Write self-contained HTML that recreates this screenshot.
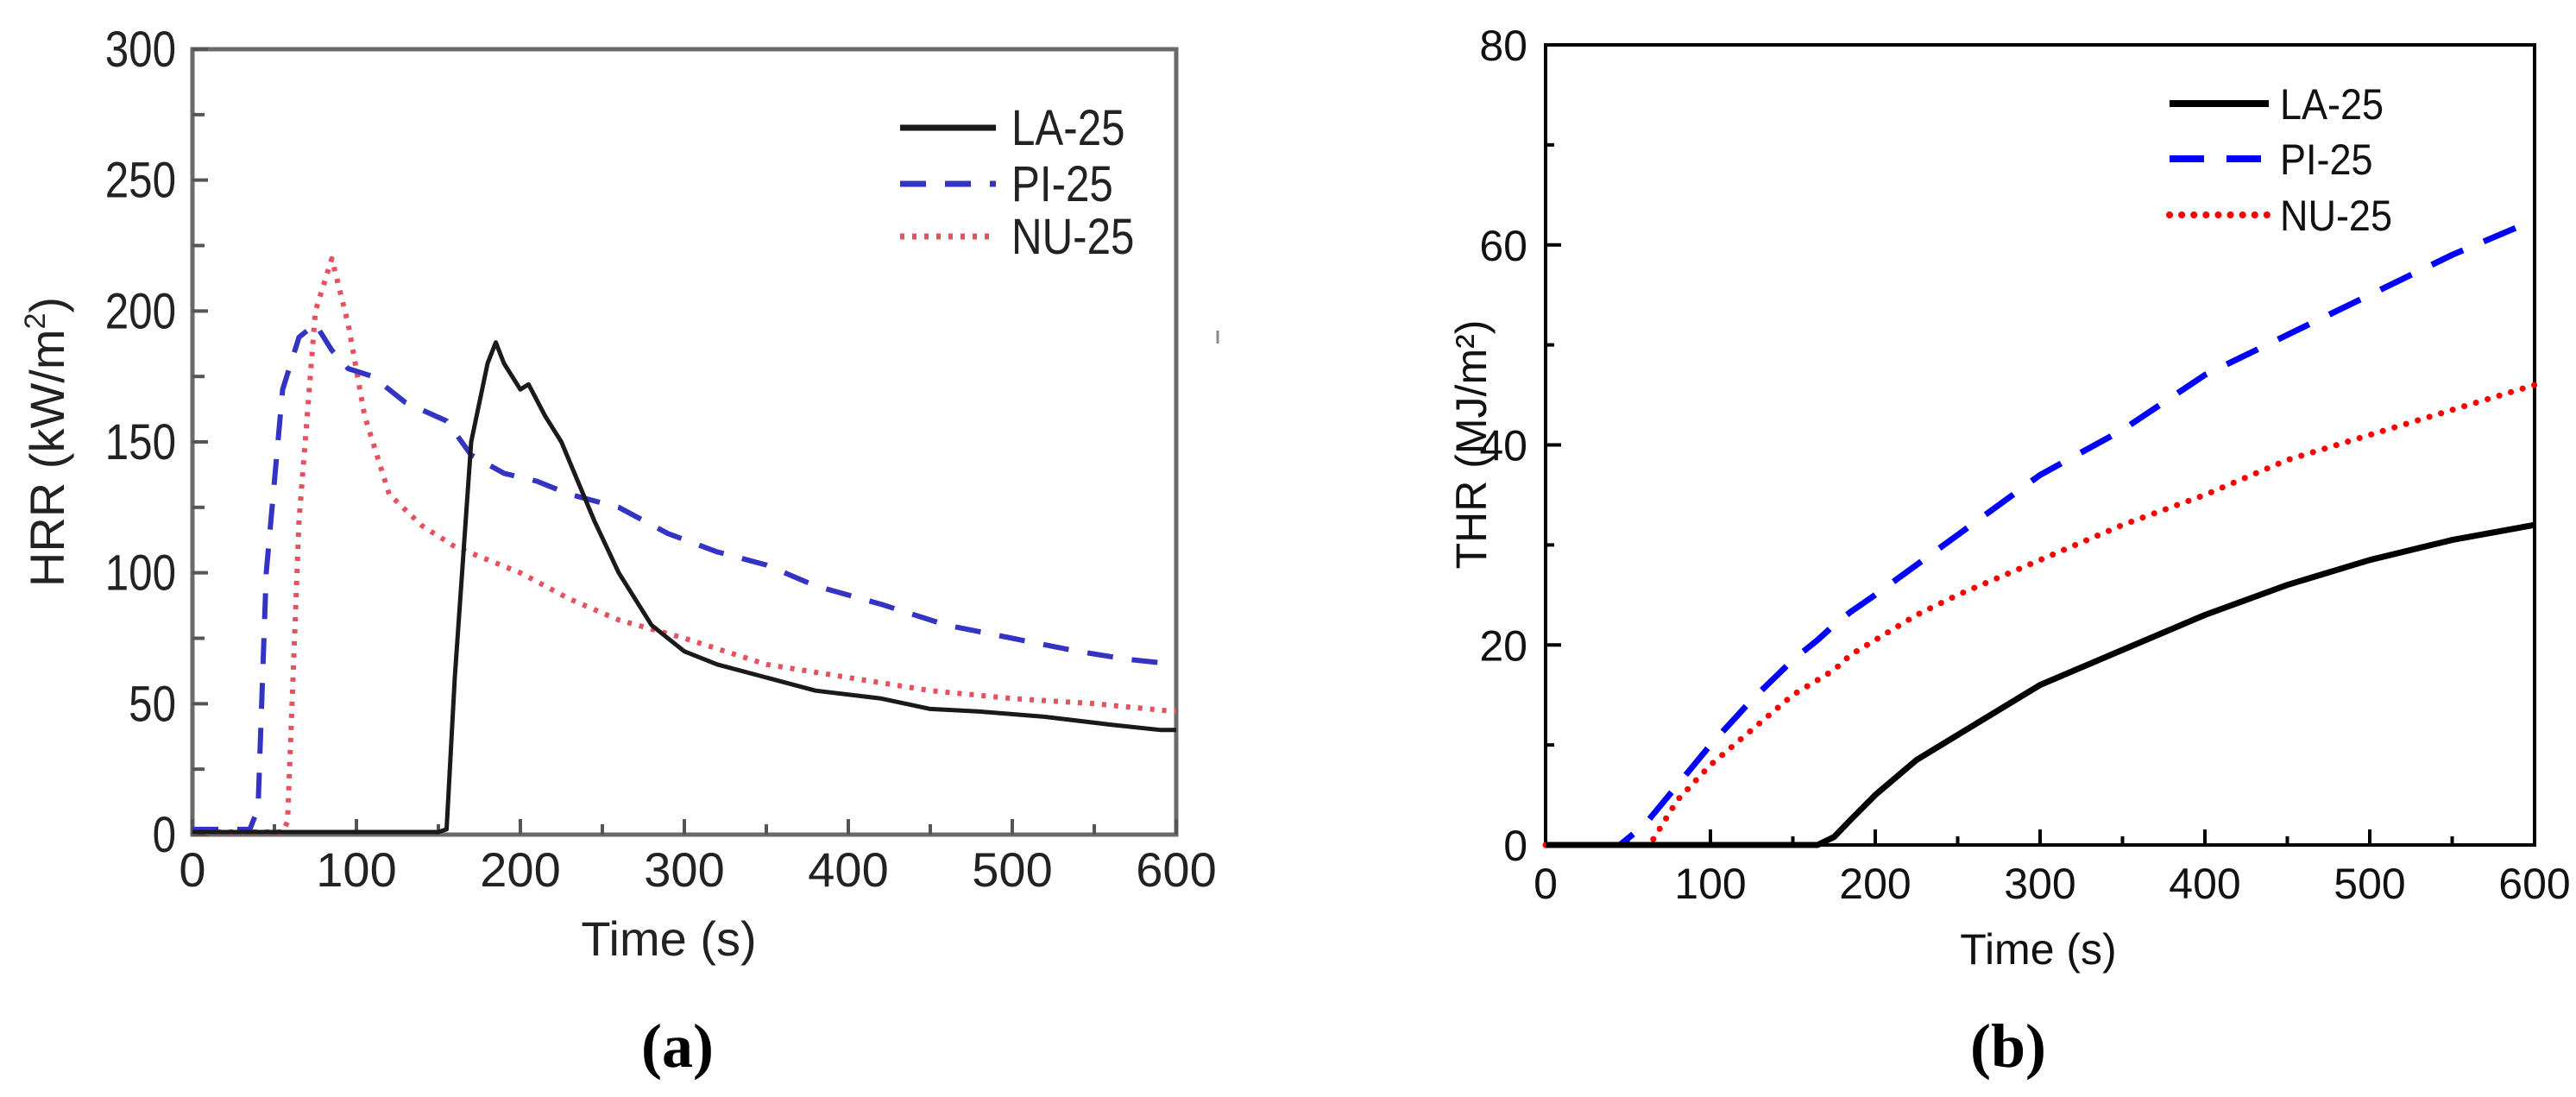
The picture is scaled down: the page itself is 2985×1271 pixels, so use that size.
<!DOCTYPE html>
<html><head><meta charset="utf-8"><style>
html,body{margin:0;padding:0;background:#fff;}
svg{display:block;font-family:"Liberation Sans",sans-serif;}
</style></head><body>
<svg id="fig" width="2985" height="1271" viewBox="0 0 2985 1271" xmlns="http://www.w3.org/2000/svg"></svg>
<script>
const hrrTime = {
  la: [0,150,155,160,170,180,185,190,200,205,215,225,235,245,260,280,300,320,350,380,420,450,480,520,560,590,600],
  pi: [0,35,40,45,55,65,75,85,95,110,130,155,170,190,210,230,260,290,320,350,380,420,460,500,540,570,600],
  nu: [0,55,58,65,75,85,95,105,120,140,160,180,200,230,260,300,350,400,450,500,550,600]
};
const hrrLA = [1,1,2,60,150,180,188,180,170,172,160,150,135,120,100,80,70,65,60,55,52,48,47,45,42,40,40];
const hrrPI = [2,2,10,100,170,190,195,185,178,175,165,158,145,138,135,130,125,115,108,103,95,88,80,75,70,67,65];
const hrrNU = [1,1,5,120,200,220,195,160,130,118,110,105,100,90,82,75,65,60,55,52,50,47];

const thrTime = [0,45,60,65,80,100,125,150,165,175,185,200,225,250,300,350,400,450,500,550,600];
const thrLA = [0,0,0,0,0,0,0,0,0,0.8,2.5,5,8.5,11,16,19.5,23,26,28.5,30.5,32];
const thrPI = [0,0,2,3,6,10,14.5,18.5,20.5,22,23.3,25,28,31,37,41.5,47,51,55,59,62.5];
const thrNU = [0,0,0,0.5,4.5,8,11.5,15,16.5,17.5,19,20.5,23,25,28.5,32,35,38.5,41,43.5,46];

const hrrYTicks = [0,50,100,150,200,250,300];
const thrYTicks = [0,20,40,60,80];
const xTicks = [0,100,200,300,400,500,600];

const NS = "http://www.w3.org/2000/svg";
const svg = document.getElementById('fig');
function mk(tag, attrs, parent){
  const e = document.createElementNS(NS, tag);
  for (const k in attrs) e.setAttribute(k, attrs[k]);
  (parent||svg).appendChild(e);
  return e;
}
function txt(s, attrs, parent){ const t = mk('text', attrs, parent); t.textContent = s; return t; }

// ---------- Chart A ----------
const A = {x0:223, x1:1363, y0:967, y1:57, ymax:300};
const ax = v => A.x0 + (A.x1-A.x0)*v/600;
const ay = v => A.y0 - (A.y0-A.y1)*v/A.ymax;
const gA = mk('g', {});


const frameA = mk('rect', {x:A.x0, y:A.y1, width:A.x1-A.x0, height:A.y0-A.y1, fill:'none', stroke:'#6a6a6a', 'stroke-width':5}, gA);


for (let v=0; v<=300; v+=25){
  const len = v%50===0 ? 18 : 14;
  const t = mk('line', {x1:A.x0, x2:A.x0+len, y1:ay(v), y2:ay(v), stroke:'#555', 'stroke-width':4}, gA);
  
  
}
for (let v=0; v<=600; v+=50){
  const len = v%100===0 ? 18 : 12;
  const t = mk('line', {x1:ax(v), x2:ax(v), y1:A.y0, y2:A.y0-len, stroke:'#555', 'stroke-width':4}, gA);
  
  
}
hrrYTicks.forEach(v=>{
  const t = txt(String(v), {x:204, y:ay(v)+20, 'text-anchor':'end', 'font-size':58, fill:'#222', transform:`translate(204 0) scale(0.85 1) translate(-204 0)`}, gA);
  
  
});
xTicks.forEach(v=>{
  const t = txt(String(v), {x:ax(v), y:1027, 'text-anchor':'middle', 'font-size':56, fill:'#222'}, gA);
  
  
});
const xtA = txt('Time (s)', {x:775, y:1107, 'text-anchor':'middle', 'font-size':56, fill:'#222'}, gA);


const ytA = mk('text', {x:0, y:0, 'text-anchor':'middle', 'font-size':56, fill:'#222', transform:'translate(74 512) rotate(-90)'}, gA);
ytA.innerHTML = 'HRR (kW/m<tspan font-size="34" dy="-22">2</tspan><tspan dy="22">)</tspan>';


const stray = mk('line', {x1:1411, x2:1411, y1:383, y2:398, stroke:'#888', 'stroke-width':3}, gA);



function path(xs, ys, fx, fy){ return xs.map((x,i)=>(i?'L':'M')+fx(x).toFixed(1)+' '+fy(ys[i]).toFixed(1)).join(' '); }
const sA = [
  {name:'hrr-series-nu-25', xs:hrrTime.nu, ys:hrrNU, stroke:'#e8505e', dash:'5 9', w:6},
  {name:'hrr-series-pi-25', xs:hrrTime.pi, ys:hrrPI, stroke:'#3434c4', dash:'30 22', w:6},
  {name:'hrr-series-la-25', xs:hrrTime.la, ys:hrrLA, stroke:'#1a1a1a', dash:'', w:5}
];
sA.forEach(s=>{
  const p = mk('path', {d:path(s.xs, s.ys, ax, ay), fill:'none', stroke:s.stroke, 'stroke-width':s.w, 'stroke-dasharray':s.dash, 'stroke-linejoin':'round'}, gA);
  
  
});
const legA = [['LA-25','#1a1a1a','',148],['PI-25','#3434c4','30 22',213],['NU-25','#e8505e','5 9',274]];
legA.forEach(l=>{
  const g = mk('g', {}, gA);
  
  
  mk('line', {x1:1043, x2:1154, y1:l[3], y2:l[3], stroke:l[1], 'stroke-width':7, 'stroke-dasharray':l[2]}, g);
  txt(l[0], {x:1172, y:l[3]+20, 'font-size':58, fill:'#222', transform:'translate(1172 0) scale(0.85 1) translate(-1172 0)'}, g);
});

// ---------- Chart B ----------
const B = {x0:1791, x1:2937, y0:979, y1:52, ymax:80};
const bx = v => B.x0 + (B.x1-B.x0)*v/600;
const by = v => B.y0 - (B.y0-B.y1)*v/B.ymax;
const gB = mk('g', {});


const frameB = mk('rect', {x:B.x0, y:B.y1, width:B.x1-B.x0, height:B.y0-B.y1, fill:'none', stroke:'#000', 'stroke-width':4}, gB);


for (let v=0; v<=80; v+=10){
  const len = v%20===0 ? 18 : 10;
  const t = mk('line', {x1:B.x0, x2:B.x0+len, y1:by(v), y2:by(v), stroke:'#000', 'stroke-width':4}, gB);
  
  
}
for (let v=0; v<=600; v+=50){
  const len = v%100===0 ? 18 : 10;
  const t = mk('line', {x1:bx(v), x2:bx(v), y1:B.y0, y2:B.y0-len, stroke:'#000', 'stroke-width':4}, gB);
  
  
}
thrYTicks.forEach(v=>{
  const t = txt(String(v), {x:1770, y:by(v)+18, 'text-anchor':'end', 'font-size':50, fill:'#111'}, gB);
  
  
});
xTicks.forEach(v=>{
  const t = txt(String(v), {x:bx(v), y:1041, 'text-anchor':'middle', 'font-size':50, fill:'#111'}, gB);
  
  
});
const xtB = txt('Time (s)', {x:2362, y:1117, 'text-anchor':'middle', 'font-size':50, fill:'#111'}, gB);


const ytB = txt('THR (MJ/m²)', {x:0, y:0, 'text-anchor':'middle', 'font-size':50, fill:'#111', transform:'translate(1722 515) rotate(-90)'}, gB);


const sB = [
  {name:'thr-series-pi-25', ys:thrPI, stroke:'#0000ff', dash:'40 26', cap:'butt'},
  {name:'thr-series-nu-25', ys:thrNU, stroke:'#ff0000', dash:'0.1 14', cap:'round'},
  {name:'thr-series-la-25', ys:thrLA, stroke:'#000', dash:'', cap:'butt'}
];
sB.forEach(s=>{
  const p = mk('path', {d:path(thrTime, s.ys, bx, by), fill:'none', stroke:s.stroke, 'stroke-width':7, 'stroke-dasharray':s.dash, 'stroke-linecap':s.cap, 'stroke-linejoin':'round'}, gB);
  
  
});
const legB = [['LA-25','#000','','butt',120],['PI-25','#0000ff','40 26','butt',184],['NU-25','#ff0000','0.1 14','round',249]];
legB.forEach(l=>{
  const g = mk('g', {}, gB);
  
  
  mk('line', {x1:2514, x2:2629, y1:l[4], y2:l[4], stroke:l[1], 'stroke-width':8, 'stroke-dasharray':l[2], 'stroke-linecap':l[3]}, g);
  txt(l[0], {x:2642, y:l[4]+18, 'font-size':50, fill:'#111', transform:'translate(2642 0) scale(0.9 1) translate(-2642 0)'}, g);
});

// panel labels
const pa = txt('(a)', {x:785, y:1236, 'text-anchor':'middle', 'font-size':72, 'font-weight':'bold', fill:'#000', 'font-family':'"Liberation Serif",serif'});


const pb = txt('(b)', {x:2327, y:1236, 'text-anchor':'middle', 'font-size':72, 'font-weight':'bold', fill:'#000', 'font-family':'"Liberation Serif",serif'});


</script>
</body></html>
